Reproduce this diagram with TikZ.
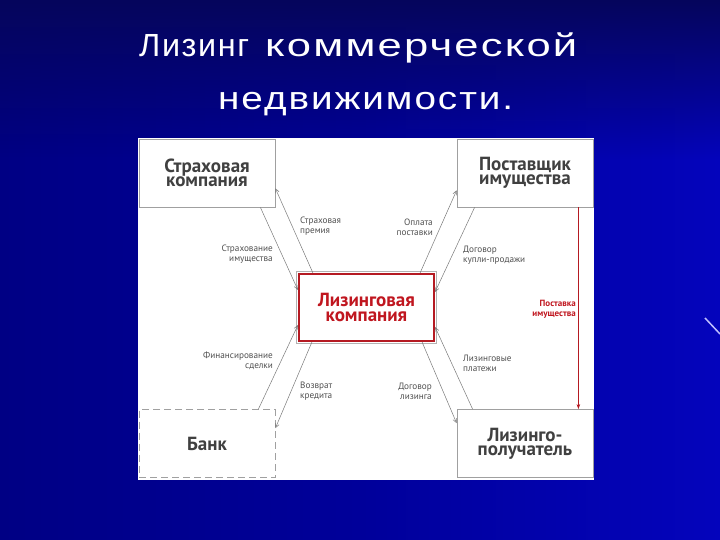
\documentclass[tikz,border=0pt]{standalone}
\usepackage{fontspec}
\usepackage{graphicx}
\setmainfont{Liberation Sans}
\newfontfamily\dfont{PT Sans}
\usetikzlibrary{arrows.meta,calc,positioning,fadings}
\definecolor{bgdark}{HTML}{06065C}
\definecolor{bgleft}{HTML}{000084}
\definecolor{bgmid}{HTML}{00009A}
\definecolor{bgright}{HTML}{0404BC}
\definecolor{boxline}{HTML}{A0A0A0}
\definecolor{boxtext}{HTML}{404040}
\definecolor{lctext}{HTML}{C0161F}
\definecolor{lcline}{HTML}{B51A22}
\definecolor{arrowgray}{HTML}{7A7A7A}
\definecolor{labgray}{HTML}{505050}
\tikzfading[name=fadedown, top color=transparent!0, bottom color=transparent!100]
\tikzset{
  actor/.style={draw=boxline, line width=0.8pt, fill=white, minimum width=136pt, minimum height=68pt,
    inner sep=0pt, align=center, text=boxtext, font=\dfont\bfseries\fontsize{19}{13.8}\selectfont},
  lcbox/.style={draw=lcline, line width=2.2pt, fill=white, minimum width=135pt, minimum height=67pt,
    inner sep=0pt, align=center, text=lctext, font=\dfont\bfseries\fontsize{19}{15}\selectfont},
  flow/.style={draw=arrowgray, line width=0.5pt, -{Straight Barb[length=4pt,width=4pt]}},
  redflow/.style={draw=lcline, line width=0.7pt, -{Stealth[length=5pt,width=3.5pt]}},
  lab/.style={inner sep=0pt, text=labgray, font=\dfont\fontsize{9.2}{10}\selectfont},
  redlab/.style={inner sep=0pt, text=lctext, font=\dfont\bfseries\fontsize{9}{10}\selectfont},
  titletext/.style={inner sep=0pt, text=white, font=\addfontfeatures{LetterSpace=5}\fontsize{32}{38}\selectfont}
}
\begin{document}
\begin{tikzpicture}[x=1pt,y=-1pt]
\useasboundingbox (0,0) rectangle (720,540);
% background
\shade[left color=bgleft, right color=bgright, middle color=bgmid] (0,0) rectangle (720,540);
\fill[bgdark, path fading=fadedown] (0,0) rectangle (720,160);
\draw[color={rgb,255:red,190;green,190;blue,255}, line width=1.5pt] (705,318) -- (720,334);
% title
\node[titletext, anchor=base west] (t1) at (139,56.7)
  {\resizebox{110pt}{\height}{Лизинг}\hspace{16pt}\resizebox{312pt}{\height}{коммерческой}};
\node[titletext, anchor=base west] (t2) at (218,109.5)
  {\resizebox{295pt}{\height}{недвижимости.}};
% panel
\fill[white] (138,138) rectangle (594,480);
% boxes
\node[actor] (ins) at (207,173) {Страховая\\компания};
\node[actor] (sup) at (525,173) {Поставщик\\имущества};
\node[actor, dash pattern=on 7pt off 4pt] (bank) at (207,443.5) {Банк};
\node[actor] (les) at (525,443.5) {Лизинго-\\получатель};
\draw[gray!60, line width=0.6pt] (296.5,271.5) rectangle (436.5,343.5);
\node[lcbox] (lc) at (366.5,307.5) {Лизинговая\\компания};
% connectors
\draw[flow] ([xshift=-15pt]ins.south east) -- ([yshift=-17pt]lc.north west);
\draw[flow] ([xshift=15pt]lc.north west) -- ([yshift=19pt]ins.south east);
\draw[flow] ([xshift=-15pt]lc.north east) -- ([yshift=17pt]sup.south west);
\draw[flow] ([xshift=18pt]sup.south west) -- ([yshift=-19pt]lc.north east);
\draw[redflow] ([xshift=-15pt]sup.south east) -- ([xshift=-15pt]les.north east);
\draw[flow] ([xshift=16pt]les.north west) -- ([yshift=15pt]lc.south east);
\draw[flow] ([xshift=-13pt]lc.south east) -- ([yshift=-14pt]les.north west);
\draw[flow] ([xshift=-17pt]bank.north east) -- ([yshift=17pt]lc.south west);
\draw[flow] ([xshift=14pt]lc.south west) -- ([yshift=-19pt]bank.north east);
% labels
\node[lab, align=right, anchor=east] (l1) at (273,254) {Страхование\\имущества};
\node[lab, align=left, anchor=west] (l2) at (300,226) {Страховая\\премия};
\node[lab, align=right, anchor=east] (l3) at (433,227) {Оплата\\поставки};
\node[lab, align=left, anchor=west] (l4) at (463,255) {Договор\\купли-продажи};
\node[redlab, align=right, anchor=east] (l5) at (576,309) {Поставка\\имущества};
\node[lab, align=right, anchor=east] (l6) at (273,361) {Финансирование\\сделки};
\node[lab, align=left, anchor=west] (l7) at (300,391) {Возврат\\кредита};
\node[lab, align=left, anchor=west] (l8) at (463,363) {Лизинговые\\платежи};
\node[lab, align=right, anchor=east] (l9) at (432,391) {Договор\\лизинга};
\end{tikzpicture}
\end{document}
